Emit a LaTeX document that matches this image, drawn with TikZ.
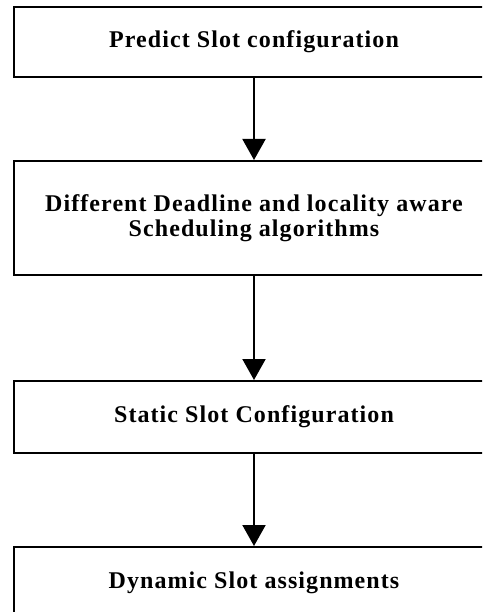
\documentclass[tikz,border=0pt]{standalone}
\usepackage{fontspec}
\setmainfont{Liberation Serif}[LetterSpace=4.5]
\usetikzlibrary{arrows.meta}
\begin{document}
\begin{tikzpicture}[x=1pt,y=-1pt,
  box/.style={draw=black,line width=2pt,minimum width=480pt,align=center,inner sep=0pt,
    font=\fontsize{24}{24.5}\selectfont\bfseries},
  arr/.style={line width=2pt,-{Triangle[width=23pt,length=21pt]}}]
\clip (0,0) rectangle (482,612);
\fill[white] (0,0) rectangle (482,612);
\node[box,minimum height=70pt] (b1) at (254,42) {Predict Slot configuration};
\node[box,minimum height=114pt] (b2) at (254,218) {Different Deadline and locality aware\\Scheduling algorithms};
\node[box,minimum height=72pt] (b3) at (254,417) {Static Slot Configuration};
\node[box,minimum height=72pt] (b4) at (254,583) {Dynamic Slot assignments};
\draw[arr] (b1.south) -- (b2.north);
\draw[arr] (b2.south) -- (b3.north);
\draw[arr] (b3.south) -- (b4.north);
\end{tikzpicture}
\end{document}
